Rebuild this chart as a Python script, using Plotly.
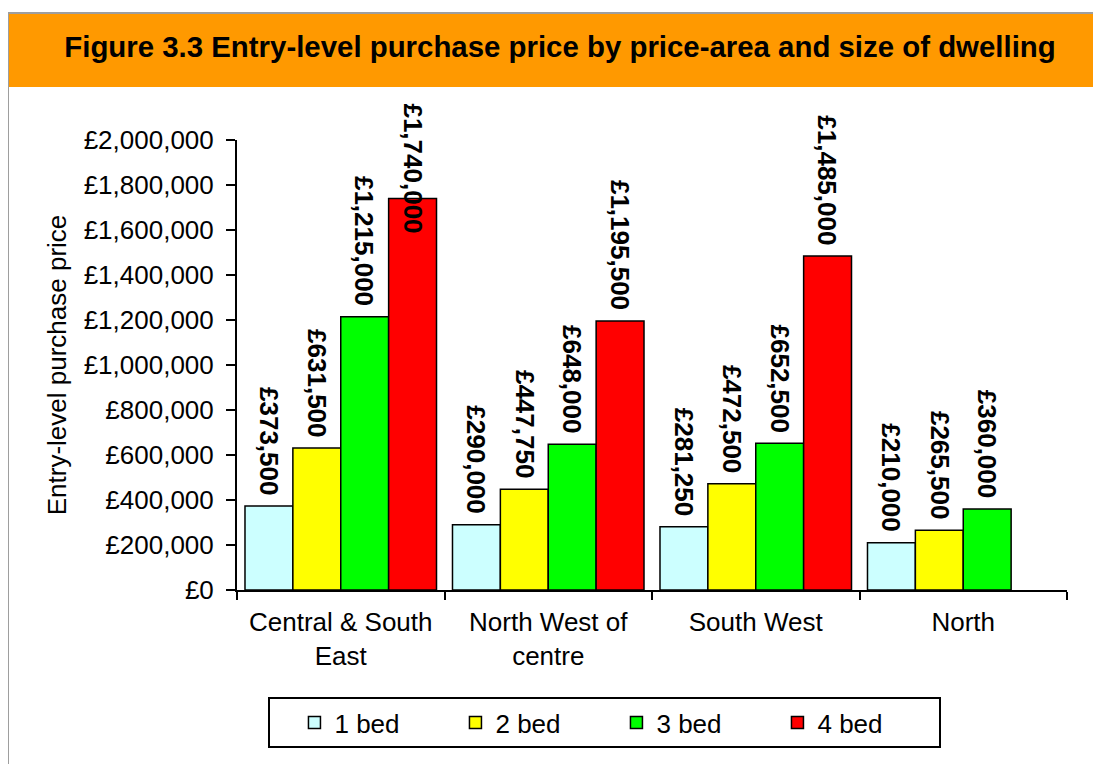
import plotly.graph_objects as go

# ---- data ----
categories = ["Central & South<br>East", "North West of<br>centre", "South West", "North"]
series_names = ["1 bed", "2 bed", "3 bed", "4 bed"]
bed1 = [373500, 290000, 281250, 210000]
bed2 = [631500, 447750, 472500, 265500]
bed3 = [1215000, 648000, 652500, 360000]
bed4 = [1740000, 1195500, 1485000, None]
y_ticks = [0, 200000, 400000, 600000, 800000, 1000000, 1200000, 1400000, 1600000, 1800000, 2000000]
y_tick_labels = ["£0", "£200,000", "£400,000", "£600,000", "£800,000", "£1,000,000",
                 "£1,200,000", "£1,400,000", "£1,600,000", "£1,800,000", "£2,000,000"]

series_values = [bed1, bed2, bed3, bed4]
colors = ["#CCFFFF", "#FFFF00", "#00FF00", "#FF0000"]

FONT = "Arial, 'Liberation Sans', sans-serif"
OFF = 8  # page body margin
W, H = 1101 - OFF, 764 - OFF
ML, MT = 237 - OFF, 140 - OFF
PLOT_R, PLOT_B = 1067 - OFF, 590 - OFF
MR, MB = W - PLOT_R, H - PLOT_B
BARGAP = 0.077
YMAX = 2000000

fig = go.Figure()
for name, vals, col in zip(series_names, series_values, colors):
    fig.add_trace(go.Bar(
        name=name, x=categories, y=vals,
        marker=dict(color=col, line=dict(color="black", width=1.5)),
        hoverinfo="skip",
    ))

# value labels (rotated, above bars)
plot_h = H - MT - MB
n = len(series_names)
bw = (1 - BARGAP) / n
annotations = []
for j, vals in enumerate(series_values):
    for i, v in enumerate(vals):
        if v is None:
            continue
        xi = i + (j - (n - 1) / 2) * bw
        txt = "<b>£{:,.0f}</b>".format(v)
        bar_top_px = v / YMAX * plot_h
        label_len = 5.0 * 26  # approx text length in px
        if bar_top_px + 10 + label_len > plot_h + 38:
            annotations.append(dict(x=xi, y=YMAX, xref="x", yref="y", text=txt,
                                    textangle=90, showarrow=False, yanchor="top",
                                    yshift=39, font=dict(family=FONT, size=26, color="black")))
        else:
            annotations.append(dict(x=xi, y=v, xref="x", yref="y", text=txt,
                                    textangle=90, showarrow=False, yanchor="bottom",
                                    yshift=9, font=dict(family=FONT, size=26, color="black")))

pw = W - ML - MR
def px_x(p):
    return (p - OFF - ML) / pw
def px_y(p):
    return (H - MB - (p - OFF)) / plot_h

shapes = [
    # orange title banner
    dict(type="rect", xref="paper", yref="paper", x0=px_x(8), x1=px_x(1120),
         y0=px_y(87), y1=px_y(13), fillcolor="#FF9900", line=dict(width=0), layer="below"),
    # outer gray frame
    dict(type="rect", xref="paper", yref="paper", x0=px_x(8), x1=px_x(1120),
         y0=px_y(800), y1=px_y(13), fillcolor="rgba(0,0,0,0)",
         line=dict(color="#9E9E9E", width=2), layer="below"),
]

fig.update_layout(
    width=W, height=H,
    margin=dict(l=ML, r=MR, t=MT, b=MB, autoexpand=False),
    paper_bgcolor="white", plot_bgcolor="white",
    barmode="group", bargap=BARGAP, bargroupgap=0,
    font=dict(family=FONT, size=26, color="black"),
    title=dict(text="<b>Figure 3.3 Entry-level purchase price by price-area and size of dwelling</b>",
               x=(560 - OFF) / W, xanchor="center", xref="container",
               y=1 - (47 - OFF) / H, yanchor="middle", yref="container",
               font=dict(family=FONT, size=29.4, color="black")),
    xaxis=dict(type="category", showline=True, linecolor="black", linewidth=2,
               ticks="outside", tickson="boundaries", ticklen=8, tickwidth=2, tickcolor="black",
               ticklabelstandoff=8,
               showgrid=False, tickfont=dict(family=FONT, size=26, color="black"),
               fixedrange=True),
    yaxis=dict(range=[0, YMAX], tickmode="array", tickvals=y_ticks, ticktext=y_tick_labels,
               showline=True, linecolor="black", linewidth=2,
               ticks="outside", ticklen=9, tickwidth=2, tickcolor="black",
               ticklabelstandoff=7,
               showgrid=False, zeroline=False,
               tickfont=dict(family=FONT, size=26, color="black"),
               title=dict(text="Entry-level purchase price", standoff=10,
                          font=dict(family=FONT, size=26, color="black")),
               fixedrange=True),
    legend=dict(orientation="h", x=px_x(268), xanchor="left", y=px_y(697), yanchor="top",
                bordercolor="black", borderwidth=2, bgcolor="white",
                font=dict(family=FONT, size=26, color="black"),
                title=dict(text="&nbsp;&nbsp;", font=dict(family=FONT, size=26)),
                entrywidth=116, entrywidthmode="pixels", traceorder="normal"),
    shapes=shapes,
    annotations=annotations,
    showlegend=True,
)

fig.write_html("out.html")
